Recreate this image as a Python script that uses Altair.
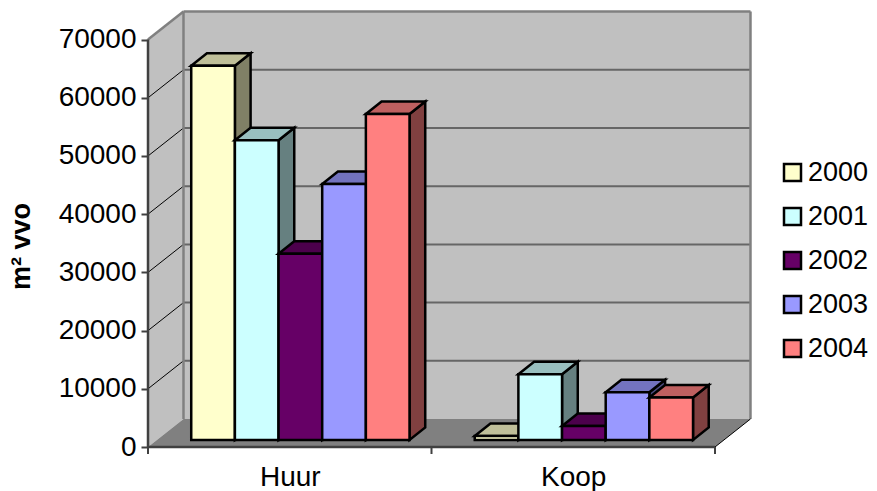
import altair as alt
import pandas as pd

CATEGORIES = ["Huur", "Koop"]
YEARS = ["2000", "2001", "2002", "2003", "2004"]
HUUR = [64300, 51500, 32000, 44000, 56000]
KOOP = [700, 11300, 2400, 8200, 7300]
FRONT = ["#FFFFCC", "#CCFFFF", "#660066", "#9999FF", "#FF8080"]
TOP = ["#BFBF99", "#99BFBF", "#4C004C", "#7373BF", "#BF6060"]
SIDE = ["#808066", "#668080", "#330033", "#4D4D80", "#804040"]
TICKS = [0, 10000, 20000, 30000, 40000, 50000, 60000, 70000]

# Chart geometry, in data units (1 x unit = one category)
DX, DY = 0.1252, 4811          # full depth of the box
BY = 1203                      # bar front offset from the front plane
BDX, BDY = 0.0554, 2148        # depth of a bar
BAR_W = 0.154
BAR_START = 0.1525
XMAX = 2.127
YMAX = 74742
TOPV = 70000

rows = []
n = 0
for c, vals in enumerate([HUUR, KOOP]):
    for i, v in enumerate(vals):
        x0 = c + BAR_START + i * BAR_W
        x1 = x0 + BAR_W
        y0 = BY
        y1 = BY + v
        yr = YEARS[i]
        # side face
        n += 1
        rows += [dict(o=n, face=yr + " side", x=x1, y=y1, y2=y0),
                 dict(o=n, face=yr + " side", x=x1 + BDX, y=y1 + BDY, y2=y0 + BDY)]
        # top face
        n += 1
        rows += [dict(o=n, face=yr + " top", x=x0, y=y1, y2=y1),
                 dict(o=n, face=yr + " top", x=x0 + BDX, y=y1 + BDY, y2=y1),
                 dict(o=n, face=yr + " top", x=x1, y=y1 + BDY, y2=y1),
                 dict(o=n, face=yr + " top", x=x1 + BDX, y=y1 + BDY, y2=y1 + BDY)]
        # front face
        n += 1
        rows += [dict(o=n, face=yr, x=x0, y=y1, y2=y0),
                 dict(o=n, face=yr, x=x1, y=y1, y2=y0)]
bars = pd.DataFrame(rows)

domain = YEARS + [y + " top" for y in YEARS] + [y + " side" for y in YEARS]
colors = FRONT + TOP + SIDE

xs = alt.Scale(domain=[0, XMAX], nice=False, zero=False)
ys = alt.Scale(domain=[0, YMAX], nice=False, zero=False)

X = alt.X("x:Q", scale=xs, title=None,
          axis=alt.Axis(values=[0.5, 1.5], labelExpr="datum.value < 1 ? '%s' : '%s'" % tuple(CATEGORIES),
                        domain=False, ticks=False, grid=False, labelFontSize=28, labelFont="Liberation Sans",
                        labelColor="#000000", labelPadding=16, labelAngle=0))
Y = alt.Y("y:Q", scale=ys, stack=None, title="m² vvo",
          axis=alt.Axis(values=TICKS, format="d", domain=False, grid=False, tickSize=7, tickWidth=2,
                        tickColor="#404040",
                        labelFontSize=28, labelFont="Liberation Sans", labelColor="#000000", labelPadding=5,
                        titleFontSize=27, titleFont="Liberation Sans", titleFontWeight="bold",
                        titleColor="#000000", titleX=-113, titleY=234, titleAngle=270))

# walls and floor
wall_rows = [
    dict(o=1, c="#C0C0C0", x=0, y=TOPV, y2=0),
    dict(o=1, c="#C0C0C0", x=DX, y=TOPV + DY, y2=DY),
    dict(o=2, c="#C0C0C0", x=DX, y=TOPV + DY, y2=DY),
    dict(o=2, c="#C0C0C0", x=2 + DX, y=TOPV + DY, y2=DY),
    dict(o=3, c="#808080", x=0, y=0, y2=0),
    dict(o=3, c="#808080", x=DX, y=DY, y2=0),
    dict(o=3, c="#808080", x=2, y=DY, y2=0),
    dict(o=3, c="#808080", x=2 + DX, y=DY, y2=DY),
]
walls = alt.Chart(pd.DataFrame(wall_rows)).mark_area().encode(
    x=X, y=Y, y2="y2:Q", detail="o:N", color=alt.Color("c:N", scale=None))


def seg(data, color, width):
    return alt.Chart(pd.DataFrame(data)).mark_rule(color=color, strokeWidth=width).encode(
        x=alt.X("x:Q", scale=xs), x2="x2:Q", y=alt.Y("y:Q", scale=ys), y2="y2:Q")


grid_back = seg([dict(x=DX, x2=2 + DX, y=t + DY, y2=t + DY) for t in TICKS[1:-1]], "#666666", 2)
grid_left = seg([dict(x=0, x2=DX, y=t, y2=t + DY) for t in TICKS[1:-1]], "#000000", 1)
frame = seg([
    dict(x=DX, x2=2 + DX, y=TOPV + DY, y2=TOPV + DY),
    dict(x=2 + DX, x2=2 + DX, y=TOPV + DY, y2=DY),
    dict(x=DX, x2=DX, y=TOPV + DY, y2=DY),
    dict(x=0, x2=DX, y=TOPV, y2=TOPV + DY),
], "#808080", 2.5)
floor_edge = seg([dict(x=2, x2=2 + DX, y=0, y2=DY)], "#000000", 1)
axes = seg([
    dict(x=0, x2=0, y=0, y2=TOPV),
    dict(x=0, x2=2, y=0, y2=0),
], "#404040", 2.5)
xticks = alt.Chart(pd.DataFrame({"x": [0, 1, 2]})).mark_rule(color="#404040", strokeWidth=2).encode(
    x=alt.X("x:Q", scale=xs), y=alt.value(435), y2=alt.value(442))

bar_layer = alt.Chart(bars).mark_area(stroke="#000000", strokeWidth=2.5, strokeJoin="miter", opacity=1).encode(
    x=alt.X("x:Q", scale=xs),
    y=alt.Y("y:Q", scale=ys, stack=None),
    y2="y2:Q",
    detail="o:Q",
    color=alt.Color("face:N", scale=alt.Scale(domain=domain, range=colors),
                    legend=alt.Legend(values=YEARS, title=None, orient="none", legendX=631, legendY=147,
                                      symbolType="square", symbolSize=289, symbolStrokeColor="#000000",
                                      symbolStrokeWidth=2.5, symbolOpacity=1, labelFontSize=27,
                                      labelFont="Liberation Sans", labelColor="#000000", rowPadding=16,
                                      labelOffset=2, labelLimit=200)),
)

chart = alt.layer(walls, grid_back, grid_left, frame, floor_edge, axes, xticks, bar_layer).properties(
    width=603, height=435,
    padding={"left": 140, "top": 4, "right": 118, "bottom": 44},
    autosize=alt.AutoSizeParams(type="none"),
    background="#FFFFFF",
).configure_view(stroke=None)

chart.save("out.html", embed_options={"renderer": "svg", "actions": False})
